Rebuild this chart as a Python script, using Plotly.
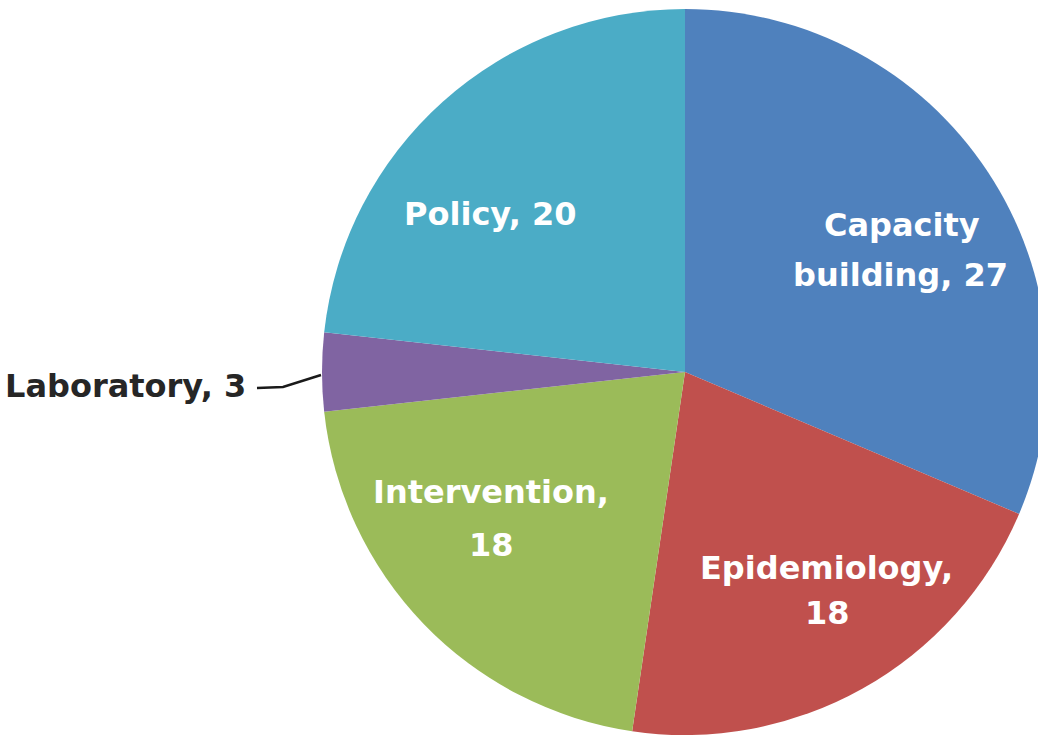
import plotly.graph_objects as go

labels = ["Capacity building", "Epidemiology", "Intervention", "Laboratory", "Policy"]
values = [27, 18, 18, 3, 20]
colors = ["#4F81BD", "#C0504D", "#9BBB59", "#8064A2", "#4BACC6"]

# figure geometry (pixels)
W, H = 1070, 760
CX, CY, R = 685, 372, 363

def px(x):
    return x / W

def py(y):
    return 1 - y / H

fig = go.Figure(go.Pie(
    labels=labels, values=values, sort=False, direction="clockwise", rotation=0,
    marker=dict(colors=colors, line=dict(width=0)),
    textinfo="none", hoverinfo="label+value",
    domain=dict(x=[px(CX - R), px(CX + R)], y=[py(CY + R), py(CY - R)]),
    showlegend=False,
))

texts = [f"{l}, {v}" for l, v in zip(labels, values)]
# line breaks and label positions (style)
line_splits = [
    ["Capacity", texts[0][len("Capacity "):]],
    [texts[1].split(" ")[0], texts[1].split(" ")[1]],
    [texts[2].split(" ")[0], texts[2].split(" ")[1]],
    [texts[3]],
    [texts[4]],
]
line_pos = [
    [(902, 225), (900, 275)],
    [(826, 568), (827, 613)],
    [(491, 492), (491, 545)],
    [(125, 386)],
    [(490, 214)],
]
FONT = "DejaVu Sans"
for i, (lines, poss) in enumerate(zip(line_splits, line_pos)):
    for t, (x, y) in zip(lines, poss):
        color = "#262626" if i == 3 else "white"
        fig.add_annotation(
            x=px(x), y=py(y), xref="paper", yref="paper", text=f"<b>{t}</b>",
            showarrow=False, xanchor="center", yanchor="middle",
            font=dict(family=FONT, size=32, color=color),
        )

# leader line for Laboratory
fig.add_shape(
    type="path", xref="paper", yref="paper",
    path=f"M {px(257)} {py(388)} L {px(283)} {py(387)} L {px(321)} {py(375)}",
    line=dict(color="#1a1a1a", width=2.5),
)

fig.update_layout(
    width=W, height=H, autosize=False,
    margin=dict(l=0, r=0, t=0, b=0),
    paper_bgcolor="white", plot_bgcolor="white",
)

fig.write_html(
    "out.html",
    config={"displayModeBar": False},
    post_script="document.body.style.margin='0';document.body.style.overflow='hidden';document.documentElement.style.overflow='hidden';",
)
